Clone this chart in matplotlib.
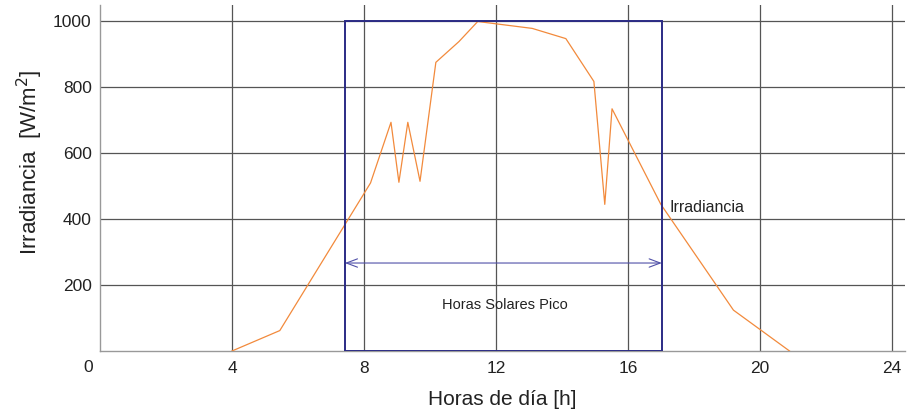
import numpy as np
import matplotlib.pyplot as plt
from matplotlib.patches import Rectangle

plt.rcParams['font.family'] = ['Liberation Sans', 'DejaVu Sans']

# irradiance curve (hour, W/m2)
hours = [4.0, 5.45, 8.2, 8.82, 9.06, 9.33, 9.7, 10.18, 10.88, 11.45, 11.6,
         13.1, 14.12, 14.97, 15.3, 15.52, 17.0, 19.2, 20.9]
irradiance = [0, 62, 510, 694, 512, 694, 515, 876, 939, 1000, 998,
              979, 948, 818, 445, 735, 445, 124, 0]

# peak sun hours box
hsp_start = 7.42
hsp_end = 17.03
hsp_level = 1000
arrow_level = 267

xticks = [4, 8, 12, 16, 20, 24]
yticks = [200, 400, 600, 800, 1000]

fig = plt.figure(figsize=(9.08, 4.18), dpi=100)
ax = fig.add_axes([100/908, 1 - 351/418, 805/908, 346/418])

ax.set_xlim(0, 24.4)
ax.set_ylim(0, 1050)

for x in xticks:
    ax.axvline(x, color='#555555', lw=0.9, zorder=1)
for y in yticks:
    ax.axhline(y, color='#555555', lw=0.9, zorder=1)

ax.plot(hours, irradiance, color='#F28A3C', lw=0.9, zorder=3)

ax.add_patch(Rectangle((hsp_start, 0), hsp_end - hsp_start, hsp_level,
                       fill=False, edgecolor='#2B2B85', lw=1.4, zorder=4))

ax.annotate('', xy=(hsp_start, arrow_level), xytext=(hsp_end, arrow_level),
            arrowprops=dict(arrowstyle='<->,head_length=0.8,head_width=0.3',
                            color='#5050A8', lw=0.8, shrinkA=0, shrinkB=0),
            zorder=4)

ax.text((hsp_start + hsp_end) / 2 + 0.05, 140, 'Horas Solares Pico',
        ha='center', va='center', fontsize=10.5, color='#222222')
ax.text(17.27, 436, 'Irradiancia', ha='left', va='center',
        fontsize=11.5, color='#222222')

ax.set_xticks(xticks)
ax.set_yticks(yticks)
ax.tick_params(length=0, labelsize=12.5, colors='#222222')
ax.tick_params(axis='x', pad=7)
ax.tick_params(axis='y', pad=6)
ax.annotate('0', xy=(0, 0), xytext=(-8.5, -6.5), textcoords='offset points',
            ha='center', va='top', fontsize=12.5, color='#222222')

for side in ['top', 'right']:
    ax.spines[side].set_visible(False)
for side in ['left', 'bottom']:
    ax.spines[side].set_color('#999999')
    ax.spines[side].set_linewidth(1.0)

ax.set_xlabel('Horas de día [h]', fontsize=15, color='#222222', labelpad=10)
fig.text(30/908, 1 - 162/418, 'Irradiancia  [W/m$^2$]', rotation=90,
         ha='center', va='center', fontsize=16, color='#222222')

fig.savefig('out.png', dpi=100)
plt.close()
